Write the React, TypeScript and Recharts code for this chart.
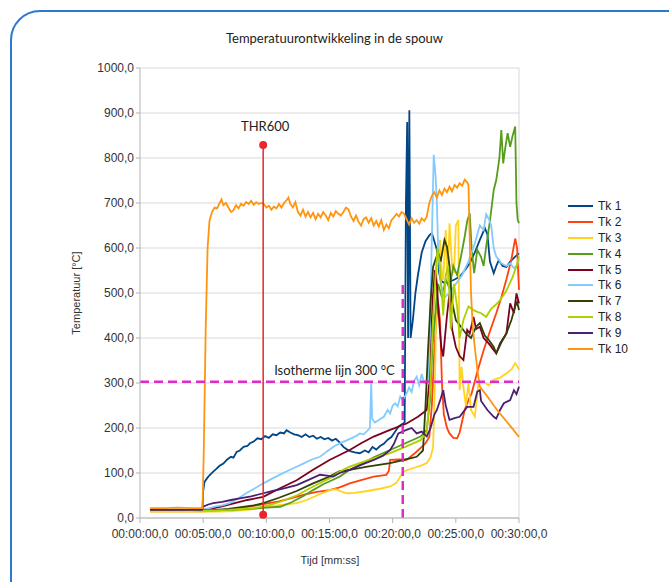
import {
  LineChart,
  Line,
  XAxis,
  YAxis,
  CartesianGrid,
  ReferenceLine,
  ReferenceDot,
} from "recharts";

type Pair = [number, number];

// tijd in minuten, temperatuur in °C
const tk1: Pair[] = [
  [0.8, 18], [1.5, 16], [2, 19], [2.5, 17], [3, 18], [3.5, 16], [4, 18], [4.5, 17], [4.95, 18],
  [5.0, 60], [5.1, 80], [5.3, 88], [5.5, 95], [5.8, 103], [6.0, 108], [6.3, 116], [6.6, 121],
  [6.9, 130], [7.2, 136], [7.4, 134], [7.65, 147], [7.9, 150], [8.2, 158], [8.5, 160], [8.7, 166],
  [9.0, 170], [9.3, 177], [9.6, 175], [9.9, 182], [10.2, 178], [10.5, 186], [10.8, 184], [11.1, 190],
  [11.4, 188], [11.6, 195], [11.9, 190], [12.2, 186], [12.5, 184], [12.8, 180], [13.1, 186],
  [13.4, 180], [13.7, 183], [14.0, 176], [14.3, 180], [14.6, 175], [14.9, 178], [15.2, 172],
  [15.5, 176], [15.8, 168], [16.1, 158], [16.4, 152], [16.7, 148], [17.0, 146], [17.4, 144],
  [17.8, 150], [18.1, 146], [18.4, 158], [18.7, 152], [19.0, 160], [19.3, 165], [19.6, 174],
  [19.9, 180], [20.2, 192], [20.45, 203], [20.7, 208], [20.95, 212], [21.05, 700], [21.15, 880],
  [21.22, 400], [21.32, 906], [21.42, 400], [21.6, 440], [21.8, 500], [22.0, 540], [22.3, 590],
  [22.6, 615], [22.9, 628], [23.1, 633], [23.3, 615], [23.5, 596], [23.65, 550], [23.8, 528],
  [24.1, 522], [24.5, 525], [24.9, 530], [25.3, 536], [25.7, 550], [26.1, 566], [26.5, 590],
  [26.9, 618], [27.3, 644], [27.5, 630], [27.7, 570], [28.0, 544], [28.2, 560], [28.4, 573],
  [28.7, 560], [29.0, 558], [29.3, 570], [29.7, 581], [30, 588],
];

const tk2: Pair[] = [
  [0.8, 15], [2, 15], [3, 15], [4, 15], [5, 15], [6, 16], [7, 18], [8, 22], [9, 27], [10, 32],
  [11, 37], [12, 44], [13, 52], [14, 58], [15, 62], [15.8, 68], [16.6, 77], [17.5, 84], [18.5, 92],
  [19.5, 96], [19.7, 105], [19.8, 129], [20.5, 130], [21.1, 129], [21.8, 145], [22.6, 166],
  [22.9, 180], [23.1, 250], [23.3, 373], [23.45, 440], [23.6, 477], [23.75, 440], [23.9, 300],
  [24.05, 230], [24.3, 200], [24.5, 188], [24.8, 178], [25.1, 177], [25.3, 190], [25.5, 215],
  [25.7, 240], [26.0, 262], [26.25, 277], [26.7, 325], [27.2, 373], [27.7, 415], [28.2, 455],
  [28.6, 490], [29.0, 530], [29.4, 575], [29.7, 621], [29.85, 600], [30, 507],
];

const tk3: Pair[] = [
  [0.8, 14], [3, 14], [5, 14], [6, 14], [7, 15], [8, 17], [9, 20], [9.76, 24], [10.5, 27],
  [11.5, 30], [12.4, 33], [13.2, 40], [14, 50], [15, 62], [15.5, 64], [16.0, 58], [16.4, 55],
  [17, 56], [18, 60], [19, 65], [19.8, 70], [20.3, 78], [20.6, 92], [20.85, 103], [21.5, 110],
  [22.2, 116], [22.7, 122], [23.0, 135], [23.2, 158], [23.35, 300], [23.5, 560], [23.75, 618],
  [23.9, 540], [24.0, 529], [24.2, 640], [24.35, 520], [24.5, 655], [24.7, 560], [24.85, 544],
  [25.0, 650], [25.2, 662], [25.3, 284], [25.45, 336], [25.6, 290], [25.8, 250], [26.0, 300],
  [26.2, 240], [26.5, 225], [26.8, 299], [27.2, 302], [27.6, 295], [28.0, 307], [28.5, 312],
  [29.0, 321], [29.4, 330], [29.7, 344], [29.85, 338], [30, 329],
];

const tk4: Pair[] = [
  [0.8, 18], [3, 18], [5, 17], [6, 17], [7, 18], [8, 19], [9, 21], [10, 23], [11.1, 25], [12, 35],
  [13, 50], [13.7, 62], [14.5, 75], [15.2, 84], [15.8, 92], [16.6, 107], [17.5, 120], [18.5, 135],
  [19.8, 151], [21, 166], [22.2, 181], [22.7, 196], [22.95, 260], [23.15, 380], [23.35, 447],
  [23.6, 520], [23.9, 490], [24.2, 530], [24.5, 510], [24.8, 560], [25.1, 540], [25.4, 580],
  [25.7, 625], [25.9, 660], [26.1, 677], [26.25, 600], [26.45, 544], [26.7, 596], [27.0, 580],
  [27.2, 560], [27.4, 603], [27.7, 660], [28.0, 729], [28.2, 751], [28.45, 800], [28.6, 862],
  [28.75, 788], [28.9, 820], [29.1, 855], [29.3, 825], [29.5, 850], [29.7, 870], [29.8, 700],
  [29.9, 662], [30, 655],
];

const tk5: Pair[] = [
  [0.8, 18], [3, 18], [5, 18], [5.5, 20], [6.5, 26], [7.5, 33], [8.5, 40], [9.76, 47], [11, 65],
  [12.4, 84], [13.7, 107], [15, 129], [15.8, 140], [16.6, 151], [17.5, 166], [18.5, 181],
  [19.8, 196], [21.1, 210], [22, 225], [22.7, 240], [22.95, 320], [23.15, 480], [23.35, 551],
  [23.5, 520], [23.7, 430], [23.85, 380], [24.0, 359], [24.3, 450], [24.5, 500], [24.7, 420],
  [25.0, 380], [25.3, 360], [25.6, 351], [25.9, 418], [26.1, 410], [26.4, 447], [26.6, 420],
  [26.9, 425], [27.2, 400], [27.6, 388], [28.0, 373], [28.2, 366], [28.5, 388], [29.0, 410],
  [29.3, 477], [29.6, 455], [29.8, 499], [30, 477],
];

const tk6: Pair[] = [
  [0.8, 18], [2, 18], [3, 19], [4, 18], [5, 18], [5.5, 22], [6, 26], [6.5, 28], [7.1, 33],
  [7.8, 44], [8.4, 55], [9.1, 66], [9.76, 77], [10.5, 88], [11.2, 98], [11.8, 106], [12.4, 114],
  [13.0, 122], [13.6, 130], [14.25, 136], [14.8, 148], [15.4, 160], [16.0, 168], [16.4, 173],
  [16.8, 178], [17.1, 182], [17.4, 188], [17.7, 186], [18.0, 194], [18.2, 200], [18.3, 300],
  [18.38, 220], [18.6, 212], [18.9, 218], [19.3, 225], [19.6, 240], [19.8, 232], [20.0, 250],
  [20.2, 255], [20.4, 248], [20.6, 270], [20.8, 262], [21.1, 277], [21.3, 290], [21.5, 280],
  [21.7, 305], [21.9, 314], [22.1, 295], [22.3, 320], [22.5, 300], [22.8, 299], [22.95, 420],
  [23.1, 620], [23.25, 807], [23.4, 760], [23.5, 700], [23.6, 600], [23.8, 520], [24.1, 490],
  [24.5, 500], [25.0, 520], [25.5, 540], [26.0, 570], [26.5, 610], [26.9, 650], [27.2, 640],
  [27.4, 675], [27.6, 665], [27.8, 650], [28.0, 600], [28.2, 581], [28.6, 566], [29.0, 560],
  [29.3, 566], [29.6, 555], [29.8, 560], [30, 575],
];

const tk7: Pair[] = [
  [0.8, 18], [3, 18], [5, 18], [6, 18], [7, 20], [8, 24], [9, 28], [9.76, 33], [11, 45],
  [12.4, 60], [13.7, 77], [15, 92], [15.8, 104], [16.6, 107], [18, 114], [19.8, 122], [21, 130],
  [21.9, 136], [22.4, 150], [22.6, 250], [22.8, 373], [23.0, 480], [23.2, 558], [23.4, 575],
  [23.6, 590], [23.8, 570], [24.1, 618], [24.3, 603], [24.5, 560], [24.7, 480], [25.0, 440],
  [25.4, 425], [25.8, 410], [26.2, 400], [26.6, 425], [26.9, 433], [27.3, 405], [27.6, 396],
  [28.0, 380], [28.2, 366], [28.6, 390], [29.0, 410], [29.4, 440], [29.7, 470], [29.85, 480],
  [30, 462],
];

const tk8: Pair[] = [
  [0.8, 18], [3, 18], [5, 17], [6, 17], [7, 18], [8, 20], [9, 22], [10, 27], [11, 35], [12.4, 50],
  [13.7, 70], [15, 88], [15.8, 103], [16.6, 114], [18, 128], [19.8, 144], [21, 158], [22.2, 173],
  [22.7, 190], [22.95, 280], [23.15, 420], [23.35, 521], [23.55, 600], [23.75, 560], [24.0, 450],
  [24.2, 540], [24.4, 560], [24.6, 420], [24.85, 520], [25.1, 470], [25.3, 400], [25.6, 440],
  [26.0, 470], [26.4, 462], [26.7, 458], [27.0, 455], [27.4, 447], [27.8, 465], [28.2, 475],
  [28.5, 484], [29.0, 505], [29.5, 536], [29.8, 560], [30, 581],
];

const tk9: Pair[] = [
  [0.8, 18], [3, 18], [4.9, 18], [5.0, 25], [5.4, 30], [5.8, 33], [6.5, 36], [7.2, 40], [8, 44],
  [8.8, 48], [9.76, 55], [10.5, 60], [11.4, 66], [12.4, 73], [13.3, 84], [14.25, 96], [14.8, 94],
  [15.3, 92], [15.8, 100], [16.6, 107], [17.5, 118], [18.5, 129], [19.2, 138], [19.8, 151],
  [20.1, 165], [20.45, 188], [20.8, 192], [21.1, 196], [21.5, 200], [21.9, 188], [22.3, 192],
  [22.7, 181], [23.0, 200], [23.3, 230], [23.5, 240], [23.8, 265], [24.0, 284], [24.2, 250],
  [24.5, 218], [24.9, 222], [25.3, 225], [25.9, 247], [26.4, 247], [26.7, 281], [26.9, 284],
  [27.0, 260], [27.5, 240], [28.0, 225], [28.2, 221], [28.5, 240], [28.8, 255], [29.3, 262],
  [29.6, 284], [29.8, 275], [30, 292],
];

const tk10: Pair[] = [
  [0.8, 22], [2, 22], [3, 23], [4, 22], [4.95, 22], [5.05, 150], [5.2, 420], [5.35, 600],
  [5.5, 660], [5.7, 680], [5.9, 690], [6.1, 688], [6.3, 700], [6.45, 708], [6.6, 695], [6.8, 700],
  [7.0, 690], [7.2, 680], [7.4, 684], [7.6, 695], [7.8, 688], [8.0, 698], [8.2, 694], [8.4, 702],
  [8.6, 698], [8.8, 705], [9.0, 696], [9.2, 702], [9.4, 698], [9.6, 700], [9.8, 698], [10.0, 690],
  [10.2, 694], [10.4, 685], [10.6, 692], [10.8, 688], [11.0, 698], [11.2, 690], [11.4, 700],
  [11.6, 706], [11.75, 712], [11.9, 698], [12.1, 690], [12.3, 702], [12.5, 680], [12.7, 672],
  [12.9, 685], [13.1, 670], [13.3, 680], [13.5, 668], [13.7, 678], [13.9, 664], [14.1, 676],
  [14.3, 668], [14.5, 680], [14.7, 672], [14.9, 662], [15.1, 678], [15.3, 670], [15.5, 682],
  [15.7, 676], [15.9, 672], [16.1, 680], [16.3, 690], [16.5, 686], [16.7, 670], [16.9, 660],
  [17.1, 672], [17.3, 658], [17.5, 650], [17.7, 664], [17.9, 668], [18.1, 656], [18.3, 666],
  [18.5, 650], [18.7, 660], [18.9, 648], [19.1, 662], [19.3, 640], [19.5, 652], [19.7, 644],
  [19.9, 662], [20.1, 668], [20.3, 676], [20.5, 670], [20.7, 680], [20.9, 676], [21.1, 664],
  [21.3, 652], [21.5, 666], [21.7, 656], [21.9, 662], [22.1, 654], [22.3, 666], [22.5, 660],
  [22.7, 670], [22.9, 700], [23.1, 716], [23.3, 724], [23.5, 712], [23.7, 728], [23.9, 718],
  [24.1, 732], [24.3, 724], [24.5, 736], [24.7, 726], [24.9, 740], [25.1, 734], [25.3, 744],
  [25.5, 738], [25.7, 752], [25.9, 746], [26.0, 740], [26.1, 620], [26.2, 500], [26.35, 420],
  [26.5, 380], [26.7, 330], [26.9, 292], [27.5, 270], [28, 250], [28.5, 232], [29, 215],
  [29.5, 198], [30, 180],
];

const seriesNames = ["Tk 1", "Tk 2", "Tk 3", "Tk 4", "Tk 5", "Tk 6", "Tk 7", "Tk 8", "Tk 9", "Tk 10"];
const seriesValues = [tk1, tk2, tk3, tk4, tk5, tk6, tk7, tk8, tk9, tk10];
const seriesColors = [
  "#004586", "#ff420e", "#ffd320", "#579d1c", "#7e0021",
  "#83caff", "#314004", "#aecf00", "#4b1f6f", "#ff950e",
];

const timeTicks = [0, 5, 10, 15, 20, 25, 30];
const tempTicks = [0, 100, 200, 300, 400, 500, 600, 700, 800, 900, 1000];

// annotaties
const thrTime = 9.75;
const thrLow = 7;
const thrHigh = 829;
const isotherm = 303;
const markerTime = 20.8;
const markerTop = 520;

const magenta = "#dd2cc6";
const axisFont = "'Liberation Sans', Arial, sans-serif";
const noteFont = "Lato, 'Open Sans', sans-serif";

const fmtTemp = (v: number) => v.toFixed(1).replace(".", ",");
const fmtTime = (m: number) => `00:${String(m).padStart(2, "0")}:00,0`;

const LegendBox = () => (
  <div
    style={{
      position: "absolute",
      left: 568,
      top: 198,
      fontFamily: axisFont,
      fontSize: 12,
      color: "#222",
    }}
  >
    {seriesNames.map((name, i) => (
      <div key={name} style={{ display: "flex", alignItems: "center", height: 15.9 }}>
        <span
          style={{
            display: "inline-block",
            width: 25,
            height: 2,
            background: seriesColors[i],
            marginRight: 5,
          }}
        />
        <span>{name}</span>
      </div>
    ))}
  </div>
);

export default function App() {
  return (
    <div
      style={{
        position: "fixed",
        left: 0,
        top: 0,
        width: 669,
        height: 582,
        overflow: "hidden",
        background: "#fff",
      }}
    >
      <div
        style={{
          position: "absolute",
          left: 10,
          top: 10,
          width: 720,
          height: 640,
          border: "2px solid #2a7bcf",
          borderRadius: 30,
          boxSizing: "border-box",
        }}
      />
      <div
        style={{
          position: "absolute",
          left: 0,
          top: 30,
          width: 669,
          textAlign: "center",
          fontFamily: noteFont,
          fontSize: 13,
          color: "#222",
        }}
      >
        Temperatuurontwikkeling in de spouw
      </div>
      <div style={{ position: "absolute", left: 0, top: 0 }}>
        <LineChart
          width={669}
          height={582}
          margin={{ top: 68, right: 150, bottom: 34, left: 80 }}
          style={{ fontFamily: axisFont }}
        >
          <CartesianGrid vertical={false} stroke="#d9d9d9" />
          <XAxis
            dataKey="t"
            type="number"
            domain={[0, 30]}
            ticks={timeTicks}
            interval={0}
            tickFormatter={fmtTime}
            stroke="#b3b3b3"
            tickSize={5}
            tickMargin={6}
            tick={{ fontSize: 12, fill: "#333", fontFamily: axisFont }}
            label={{
              content: () => (
                <text x={330} y={564} textAnchor="middle" fontSize={11} fill="#333" fontFamily={axisFont}>
                  Tijd [mm:ss]
                </text>
              ),
            }}
          />
          <YAxis
            type="number"
            domain={[0, 1000]}
            ticks={tempTicks}
            interval={0}
            tickFormatter={fmtTemp}
            width={60}
            stroke="#b3b3b3"
            tickSize={4}
            tick={{ fontSize: 12, fill: "#333", fontFamily: axisFont }}
            label={{
              content: () => (
                <text
                  x={80}
                  y={293}
                  transform="rotate(-90 80 293)"
                  textAnchor="middle"
                  fontSize={11}
                  fill="#333"
                  fontFamily={axisFont}
                >
                  Temperatuur [°C]
                </text>
              ),
            }}
          />
          <ReferenceLine x={30} stroke="#d9d9d9" />
          {seriesValues.map((pairs, i) => (
            <Line
              key={seriesNames[i]}
              name={seriesNames[i]}
              data={pairs.map(([t, v]) => ({ t, v }))}
              dataKey="v"
              type="linear"
              stroke={seriesColors[i]}
              strokeWidth={1.8}
              dot={false}
              activeDot={false}
              isAnimationActive={false}
            />
          ))}
          <ReferenceLine
            y={isotherm}
            stroke={magenta}
            strokeWidth={2.5}
            strokeDasharray="9 5"
            label={{
              value: "Isotherme lijn 300 °C",
              position: "top",
              offset: 7,
              dx: 5,
              fontSize: 13,
              fill: "#222",
              fontFamily: noteFont,
            }}
          />
          <ReferenceLine
            segment={[
              { x: markerTime, y: 0 },
              { x: markerTime, y: markerTop },
            ]}
            stroke={magenta}
            strokeWidth={2.5}
            strokeDasharray="9 5"
          />
          <ReferenceLine
            segment={[
              { x: thrTime, y: thrLow },
              { x: thrTime, y: thrHigh },
            ]}
            stroke="#e8262b"
            strokeWidth={1.5}
          />
          <ReferenceDot x={thrTime} y={thrLow} r={4} fill="#e8262b" stroke="none" />
          <ReferenceDot
            x={thrTime}
            y={thrHigh}
            r={4}
            fill="#e8262b"
            stroke="none"
            label={{
              value: "THR600",
              position: "top",
              offset: 10,
              dx: 2,
              fontSize: 13,
              fill: "#222",
              fontFamily: noteFont,
            }}
          />
        </LineChart>
      </div>
      <LegendBox />
    </div>
  );
}
